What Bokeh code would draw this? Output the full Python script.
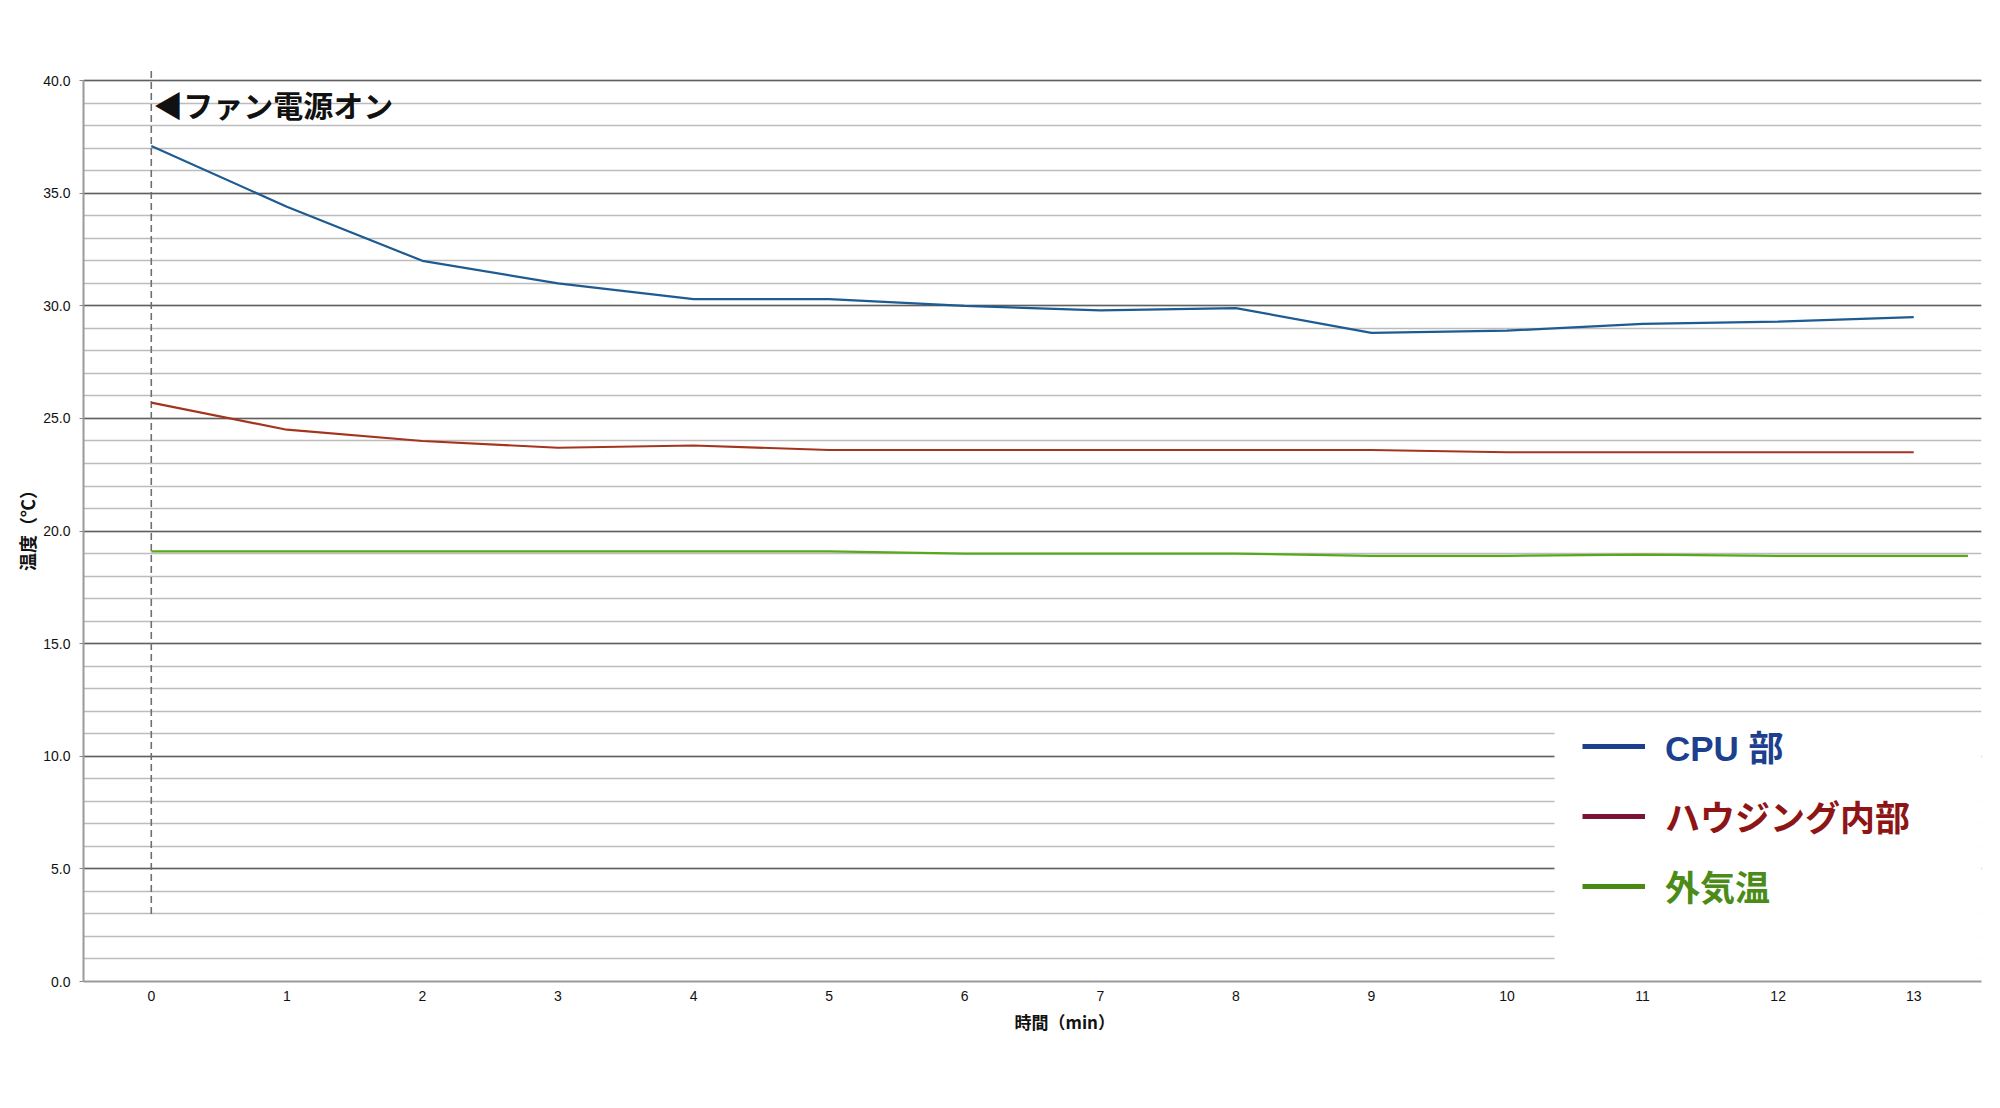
from bokeh.plotting import figure
from bokeh.models import (FixedTicker, Range1d, Legend, LegendItem, BoxAnnotation,
                          Label, NumeralTickFormatter, Title)
from bokeh.embed import file_html
from bokeh.resources import INLINE

# ---- data ----
minutes = [0, 1, 2, 3, 4, 5, 6, 7, 8, 9, 10, 11, 12, 13]
cpu_temp = [37.1, 34.4, 32.0, 31.0, 30.3, 30.3, 30.0, 29.8, 29.9, 28.8, 28.9, 29.2, 29.3, 29.5]
housing_temp = [25.7, 24.5, 24.0, 23.7, 23.8, 23.6, 23.6, 23.6, 23.6, 23.6, 23.5, 23.5, 23.5, 23.5]
outside_minutes = [0, 1, 2, 3, 4, 5, 6, 7, 8, 9, 10, 11, 12, 13, 13.4]
outside_temp = [19.1, 19.1, 19.1, 19.1, 19.1, 19.1, 19.0, 19.0, 19.0, 18.9, 18.9, 18.95, 18.9, 18.9, 18.9]

series_labels = ["CPU 部", "ハウジング内部", "外気温"]
x_ticks = list(range(14))
y_major = [0, 5, 10, 15, 20, 25, 30, 35, 40]
y_minor = list(range(0, 41))
fan_on_x = 0
fan_line_y = [3.0, 40.45]
fan_label_y = 38.95
fan_label = "◀ファン電源オン"
x_title = "時間（min）"
y_title = "温度（℃）"

# ---- styles ----
line_colors = ["#1d5b92", "#a5341f", "#58a81c"]
legend_line_colors = ["#1b3f8c", "#7d1238", "#4a8a12"]
legend_text_colors = ["#1c3f8e", "#8e1515", "#4b8c18"]
JP = "Noto Sans CJK JP"
MIX = "'Liberation Sans', 'Noto Sans CJK JP'"

p = figure(width=1992, height=1100, output_backend="svg", toolbar_location=None,
           x_range=Range1d(-0.5, 13.5), y_range=Range1d(0, 40.45),
           min_border_left=83, min_border_right=11, min_border_top=70, min_border_bottom=119)
p.outline_line_color = None
p.background_fill_color = "white"
p.xgrid.visible = False

yt = FixedTicker(ticks=y_major, minor_ticks=y_minor)
p.yaxis.ticker = yt
p.ygrid.ticker = yt
p.ygrid.grid_line_color = "#606060"
p.ygrid.grid_line_width = 1.3
p.ygrid.minor_grid_line_color = "#bcbcbc"
p.ygrid.minor_grid_line_width = 1.3

p.yaxis.formatter = NumeralTickFormatter(format="0.0")
p.yaxis.bounds = (0, 40)
p.yaxis.axis_line_color = "#9a9a9a"
p.yaxis.axis_line_width = 2
p.yaxis.major_tick_out = 4
p.yaxis.major_tick_in = 0
p.yaxis.minor_tick_out = 0
p.yaxis.minor_tick_in = 0
p.yaxis.major_tick_line_color = "#8a8a8a"
p.yaxis.major_label_standoff = 9
p.yaxis.major_label_text_font = "Liberation Sans"
p.yaxis.major_label_text_font_size = "14px"
p.yaxis.major_label_text_color = "#111111"
p.yaxis.axis_label = y_title
p.yaxis.axis_label_text_font = JP
p.yaxis.axis_label_text_font_style = "bold"
p.yaxis.axis_label_text_font_size = "18px"
p.yaxis.axis_label_text_color = "#111111"
p.yaxis.axis_label_standoff = 0

p.xaxis.ticker = FixedTicker(ticks=x_ticks)
p.xaxis.axis_line_color = "#9a9a9a"
p.xaxis.axis_line_width = 2
p.xaxis.major_tick_out = 0
p.xaxis.major_tick_in = 0
p.xaxis.minor_tick_out = 0
p.xaxis.minor_tick_in = 0
p.xaxis.major_label_standoff = 9
p.xaxis.major_label_text_font = "Liberation Sans"
p.xaxis.major_label_text_font_size = "14px"
p.xaxis.major_label_text_color = "#111111"

# x-axis title, placed below the axis (slightly right of centre, as in the original)
p.add_layout(Title(text=x_title, align="left", offset=931, standoff=6,
                   text_font=JP, text_font_style="bold", text_font_size="17px",
                   text_color="#111111"), "below")

# fan-on marker
p.line(x=[fan_on_x, fan_on_x], y=fan_line_y, line_color="#6f6f6f", line_width=1.6, line_dash="7 4")
p.add_layout(Label(x=fan_on_x, y=fan_label_y, text=fan_label, x_offset=2,
                   text_font=JP, text_font_style="bold", text_font_size="30px",
                   text_baseline="middle", text_color="#111111"))

# data lines
p.line(x=minutes, y=cpu_temp, line_color=line_colors[0], line_width=2.2)
p.line(x=minutes, y=housing_temp, line_color=line_colors[1], line_width=2.2)
p.line(x=outside_minutes, y=outside_temp, line_color=line_colors[2], line_width=2.2)

# white area behind legend
p.add_layout(BoxAnnotation(left=10.35, bottom=0.3, top=11.8, fill_color="white",
                           fill_alpha=1.0, line_color=None))

nan = float("nan")
legend_locs = [(1499, 210), (1499, 140), (1499, 70)]
for lab, lc, tc, loc in zip(series_labels, legend_line_colors, legend_text_colors, legend_locs):
    r = p.line(x=[nan, nan], y=[nan, nan], line_color=lc, line_width=5)
    leg = Legend(items=[LegendItem(label=lab, renderers=[r], index=0)], location=loc,
                 padding=0, margin=0, spacing=0, glyph_width=63, glyph_height=40,
                 label_height=40, label_standoff=20, label_text_font=MIX,
                 label_text_font_style="bold", label_text_font_size="35px",
                 label_text_color=tc, border_line_color=None, background_fill_alpha=0)
    p.add_layout(leg)

open("out.html", "w").write(file_html(p, INLINE))
